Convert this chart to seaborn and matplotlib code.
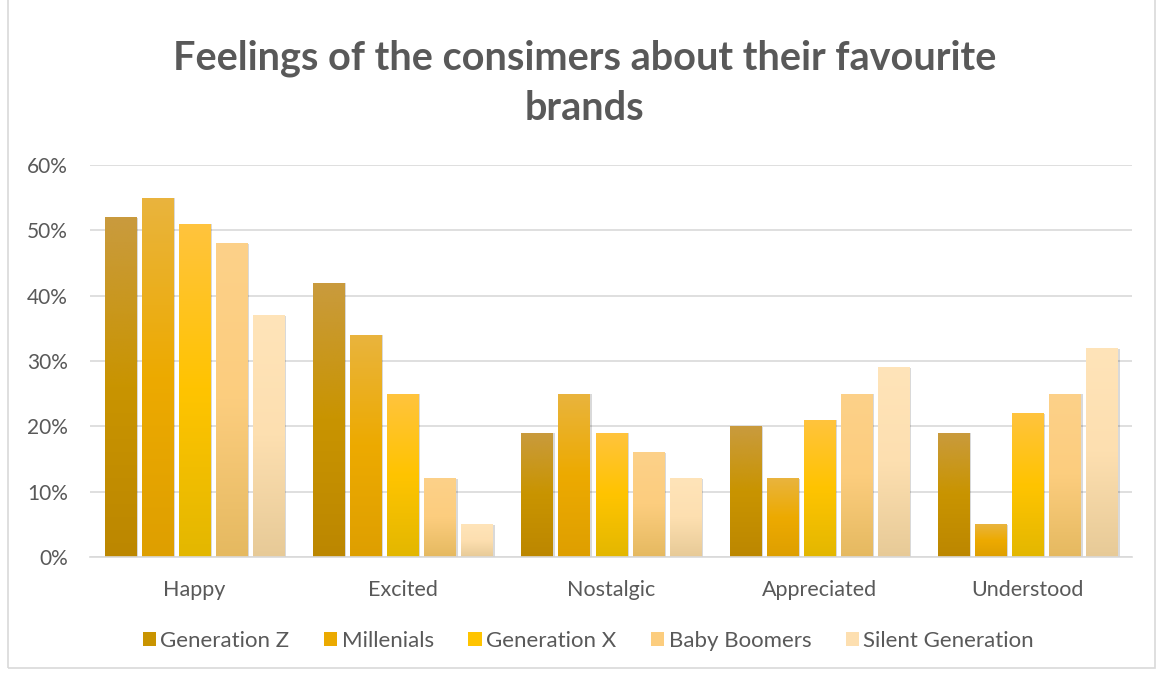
import numpy as np
import pandas as pd
import matplotlib
matplotlib.use("Agg")
import matplotlib.pyplot as plt
import seaborn as sns
from matplotlib.colors import LinearSegmentedColormap, to_rgb
from matplotlib.patches import Rectangle
from matplotlib import patheffects as pe
from matplotlib.ticker import FuncFormatter

categories = ["Happy", "Excited", "Nostalgic", "Appreciated", "Understood"]
series = ["Generation Z", "Millenials", "Generation X", "Baby Boomers", "Silent Generation"]
gen_z = [0.52, 0.42, 0.19, 0.20, 0.19]
millenials = [0.55, 0.34, 0.25, 0.12, 0.05]
gen_x = [0.51, 0.25, 0.19, 0.21, 0.22]
boomers = [0.48, 0.12, 0.16, 0.25, 0.25]
silent = [0.37, 0.05, 0.12, 0.29, 0.32]

base_colors = ["#C99400", "#EBAA00", "#FFC400", "#FCCD7E", "#FDDFB0"]
grad_stops = [
    ("#C99B3E", "#C99400", "#BC8700"),
    ("#E9B43E", "#EDAA00", "#DE9F00"),
    ("#FFC33E", "#FFC400", "#E3B700"),
    ("#FDD189", "#FCCD7E", "#E5B960"),
    ("#FFE4B9", "#FDDFB0", "#E7CA97"),
]

df = pd.DataFrame({
    "category": categories * 5,
    "series": sum([[s] * len(categories) for s in series], []),
    "value": gen_z + millenials + gen_x + boomers + silent,
})

sns.set_theme(style="white")
plt.rcParams["font.family"] = ["Lato", "DejaVu Sans"]

fig = plt.figure(figsize=(11.58, 6.75), dpi=100)
ax = fig.add_axes([0.078, 0.175, 0.8995, 0.5806])

sns.barplot(data=df, x="category", y="value", hue="series", order=categories,
            hue_order=series, palette=base_colors, width=0.89, gap=0.16,
            ax=ax, legend=True, saturation=1, edgecolor="none")

ax.set_ylim(0, 0.6)
ax.set_xlim(-0.5, 4.5)
ax.set_yticks(np.arange(0, 0.61, 0.1))
ax.yaxis.set_major_formatter(FuncFormatter(lambda v, p: f"{v*100:.0f}%"))
ax.grid(axis="y", color="#D9D9D9", linewidth=1.2)
ax.set_axisbelow(True)
for s in ["top", "right", "left"]:
    ax.spines[s].set_visible(False)
ax.spines["bottom"].set_color("#D9D9D9")
ax.spines["bottom"].set_linewidth(1.2)
ax.tick_params(axis="x", length=0, labelsize=15.5, labelcolor="#595959", pad=17)
ax.tick_params(axis="y", length=0, labelsize=15, labelcolor="#595959", pad=16)
ax.set_xlabel("")
ax.set_ylabel("")

# gradient fill per bar, clipped to each bar
for i, cont in enumerate(ax.containers):
    top, mid, bot = grad_stops[i]
    cmap = LinearSegmentedColormap.from_list(f"g{i}", [to_rgb(bot), to_rgb(mid), to_rgb(top)])
    grad = np.linspace(0, 1, 256).reshape(-1, 1)
    for patch in cont.patches:
        x0, y0 = patch.get_x(), patch.get_y()
        w, h = patch.get_width(), patch.get_height()
        patch.set_path_effects([pe.SimplePatchShadow(offset=(1.5, -0.5), shadow_rgbFace="#000000", alpha=0.15),
                                pe.Normal()])
        im = ax.imshow(grad, extent=[x0, x0 + w, y0, y0 + h], origin="lower", aspect="auto",
                       cmap=cmap, zorder=patch.get_zorder() + 0.1, interpolation="bicubic")
        im.set_clip_path(patch)
ax.set_xlim(-0.5, 4.5)
ax.set_ylim(0, 0.6)

handles, labels = ax.get_legend_handles_labels()
ax.legend_.remove()
fig.legend(handles, labels, loc="center", bbox_to_anchor=(0.508, 0.05), ncol=5, frameon=False,
           fontsize=16, labelcolor="#595959", handlelength=0.6, handleheight=0.6,
           columnspacing=1.55, handletextpad=0.2)

fig.text(0.505, 0.877, "Feelings of the consimers about their favourite\nbrands", ha="center",
         va="center", fontsize=28.5, fontweight="bold", color="#595959", linespacing=1.42)

fig.add_artist(Rectangle((0.007, 0.01), 0.99, 0.995, transform=fig.transFigure, fill=False,
                         edgecolor="#D9D9D9", linewidth=1.2))

fig.savefig("out.png", dpi=100)
